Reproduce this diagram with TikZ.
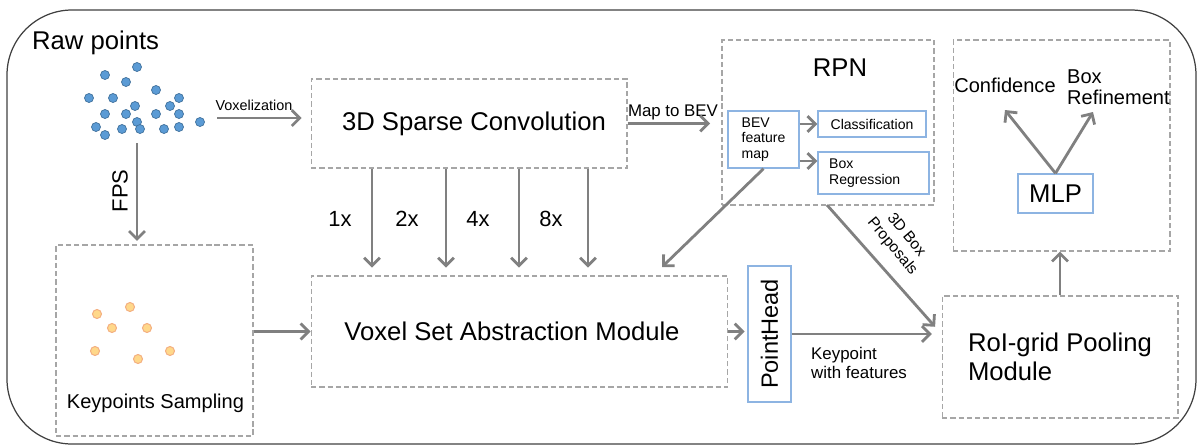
\documentclass[tikz,border=0pt]{standalone}
\usepackage{fontspec}
\setmainfont{Liberation Sans}
\usetikzlibrary{arrows.meta,calc}
\definecolor{arrgray}{HTML}{808080}
\definecolor{dashgray}{HTML}{A6A6A6}
\definecolor{framecol}{HTML}{404040}
\definecolor{bluebd}{HTML}{8DB4E2}
\definecolor{dotblue}{HTML}{5B9BD5}
\definecolor{dotblueb}{HTML}{41719C}
\definecolor{dotor}{HTML}{FFD88A}
\definecolor{dotorb}{HTML}{F4B183}
\begin{document}
\begin{tikzpicture}[x=0.02cm,y=-0.02cm,
  dbox/.style={draw=dashgray, dash pattern=on 3pt off 1.7pt, line width=0.6pt, inner sep=0pt},
  bbox/.style={draw=bluebd, line width=0.8pt, inner sep=0pt},
  arr/.style={draw=arrgray, line width=1.6pt, -{Straight Barb[length=4.5pt,width=9pt]}},
  fL/.style={font=\fontsize{14.6pt}{16.4pt}\selectfont},
  fM/.style={font=\fontsize{12.5pt}{15pt}\selectfont},
  fPH/.style={font=\fontsize{13.4pt}{16pt}\selectfont},
  fK/.style={font=\fontsize{11.4pt}{11.9pt}\selectfont},
  fS/.style={font=\fontsize{9.6pt}{10.8pt}\selectfont},
  fP/.style={font=\fontsize{8.8pt}{10.4pt}\selectfont},
  fV/.style={font=\fontsize{8.2pt}{9.5pt}\selectfont},
  fX/.style={font=\fontsize{8pt}{9pt}\selectfont},
  bdot/.style={fill=dotblue, draw=dotblueb, line width=0.4pt},
  odot/.style={fill=dotor, draw=dotorb, line width=0.6pt}]
\useasboundingbox (0,0) rectangle (1198,444);
% outer frame
\draw[framecol, line width=0.7pt, rounded corners=1.3cm] (7,10) rectangle (1196,444);

% raw points
\node[fL, anchor=west] (rawt) at (26,43) {Raw points};
\foreach \px/\py in {105/75,137/67,126/82,156/90,89/98,113/98,179/98,135/106,170/106,105/114,126/114,156/114,179/114,137/122,200/122,96/127,105/135,122/129,140/129,164/129,179/127}
  \draw[bdot] (\px,\py) circle (0.09cm);

% boxes
\node[dbox, minimum width=6.32cm, minimum height=1.78cm, fL] (sc) at (469,123.5) {\hspace*{0.2cm}3D Sparse Convolution};
\node[dbox, minimum width=4.24cm, minimum height=3.3cm] (rpn) at (828,122.5) {};
\node[fL] (rpnt) at (840,68) {RPN};
\node[bbox, minimum width=1.42cm, minimum height=1.14cm, align=left, fX] (bev) at (763.5,139.5) {BEV\\feature\\map};
\node[bbox, minimum width=2.16cm, minimum height=0.52cm, fX] (cls) at (872,124) {Classification};
\node[bbox, minimum width=2.22cm, minimum height=0.84cm] (reg) at (873.5,173) {};
\node[fX, align=left, anchor=west] (regt) at (823,173) {Box\\Regression};
\node[dbox, minimum width=8.34cm, minimum height=2.22cm, fL] (vsa) at (519.5,331.5) {Voxel Set Abstraction Module\hspace*{0.3cm}};
\node[dbox, minimum width=3.94cm, minimum height=3.82cm] (ks) at (154.5,340.5) {};
\node[fK] (kst) at (155.5,403) {Keypoints Sampling};
\foreach \px/\py in {97/314,130/307,112/328,147/328,95/351,138/359,170/351}
  \draw[odot] (\px,\py) circle (0.09cm);
\node[bbox, minimum width=0.86cm, minimum height=2.72cm, fPH] (ph) at (769.5,334) {\rotatebox{90}{PointHead}};
\node[dbox, minimum width=4.72cm, minimum height=2.44cm, fL, align=left] (roi) at (1060,357) {RoI-grid Pooling\\Module};
\node[dbox, minimum width=4.34cm, minimum height=4.22cm] (head) at (1061.5,145.5) {};
\node[bbox, minimum width=1.5cm, minimum height=0.78cm, fL] (mlp) at (1055.5,193.5) {MLP};
\node[fK] (conf) at (1005,85) {Confidence};
\node[fK, align=left, anchor=west] (refine) at (1061,87.5) {Box\\Refinement};

% labels
\node[fV] (voxl) at (254,105) {Voxelization};
\node[fM] (fps) at (120,191) {\rotatebox{90}{FPS}};
\node[fS] (mapl) at (673,112) {Map to BEV};
\node[fM] (l1) at (340,219) {1x};
\node[fM] (l2) at (407,219) {2x};
\node[fM] (l4) at (478,219) {4x};
\node[fM] (l8) at (551,219) {8x};
\node[fP, align=center, rotate=-50, inner sep=1pt] (propl) at (899,241) {3D Box\\Proposals};
\node[fS, align=left, anchor=west] (kwf) at (805,362.5) {Keypoint\\with features};

% connectors
\coordinate (rawE) at (217,118);
\draw[arr, shorten >=5pt] (rawE) -- (rawE -| sc.west);
\coordinate (rawS) at (137,143);
\draw[arr, shorten >=2pt] (rawS) -- (rawS |- ks.north);
\draw[arr] (ks.east |- vsa.west) -- (vsa.west);
\foreach \i/\xx in {1/372,2/446,3/519,4/588}{
  \coordinate (c\i) at (\xx,0);
  \draw[arr, shorten >=4.5pt] (sc.south -| c\i) -- (vsa.north -| c\i);
}
\draw[arr, shorten >=6.5pt] (sc.east) -- (sc.east -| rpn.west);
\draw[arr] (bev.east |- cls.west) -- (cls.west);
\coordinate (b2) at ([yshift=-0.43cm]bev.east);
\draw[arr] (b2) -- (b2 -| reg.west);
\coordinate (bevIn) at (662,267);
\draw[arr] (bev.south) -- (bevIn);
\coordinate (propS) at (827,205);
\draw[arr, shorten >=5.5pt] (propS) -- (ph.east -| roi.west);
\draw[arr, shorten >=1.5pt] (vsa.east) -- (vsa.east -| ph.west);
\draw[arr, shorten >=5.5pt] (ph.east) -- (ph.east -| roi.west);
\draw[arr] (roi.north) -- (roi.north |- head.south);
\coordinate (confT) at (1005,110);
\coordinate (refT) at (1093,112);
\draw[arr] (mlp.north) -- (confT);
\draw[arr] (mlp.north) -- (refT);
\end{tikzpicture}
\end{document}
